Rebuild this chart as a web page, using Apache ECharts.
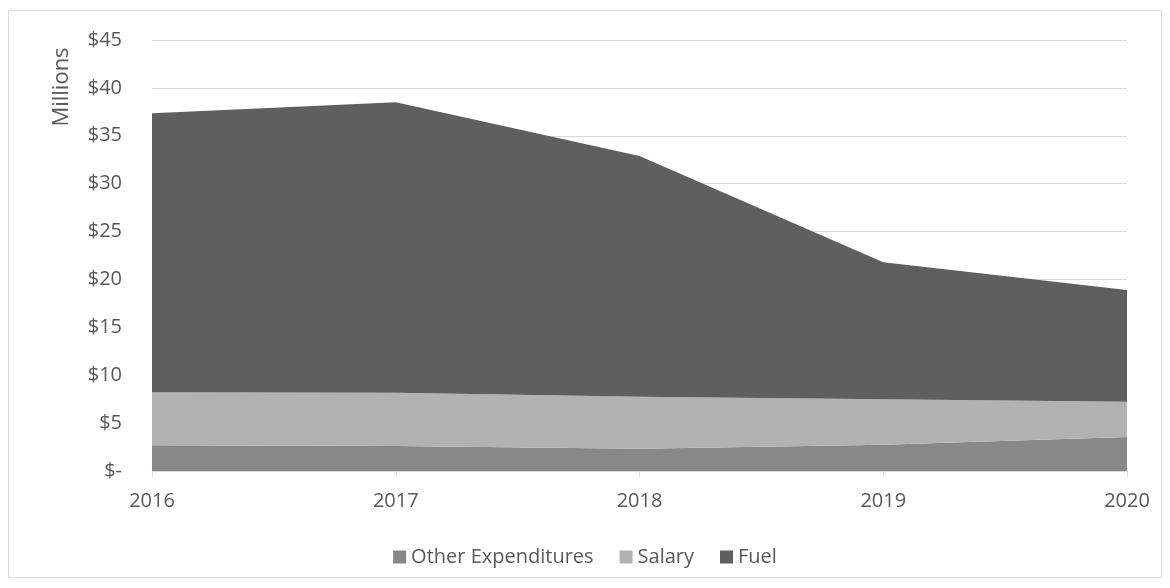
<!DOCTYPE html>
<html>
<head>
<meta charset="utf-8">
<script src="https://cdn.jsdelivr.net/npm/echarts@6/dist/echarts.min.js"></script>
<style>
  html, body { margin: 0; padding: 0; background: #fff; }
  #chart { width: 1170px; height: 588px; }
</style>
</head>
<body>
<div id="chart"></div>
<script>
// data, in millions
var years = ['2016', '2017', '2018', '2019', '2020'];
var otherExp = [2.68, 2.6, 2.33, 2.75, 3.55];
var salary = [5.53, 5.57, 5.43, 4.75, 3.68];
var fuel = [29.13, 30.33, 25.14, 14.3, 11.67];

var textColor = '#595959';
var font = 'Open Sans';

var chart = echarts.init(document.getElementById('chart'));

function area(name, data, color) {
  return {
    name: name,
    type: 'line',
    stack: 'total',
    data: data,
    symbol: 'none',
    lineStyle: { width: 0 },
    areaStyle: { color: color, opacity: 1 },
    itemStyle: { color: color }
  };
}

chart.setOption({
  animation: false,
  textStyle: { fontFamily: font },
  grid: { left: 152, right: 43, top: 40, bottom: 117 },
  graphic: [
    {
      type: 'rect',
      shape: { x: 8.5, y: 10.5, width: 1153, height: 567 },
      style: { fill: 'none', stroke: '#d9d9d9', lineWidth: 1 },
      z: -1
    },
    {
      type: 'text',
      x: 62, y: 87,
      rotation: Math.PI / 2,
      style: {
        text: 'Millions',
        fill: textColor,
        font: '22px "Open Sans"',
        align: 'center',
        verticalAlign: 'middle'
      }
    }
  ],
  legend: {
    bottom: 16,
    left: 'center',
    itemWidth: 13,
    itemHeight: 13,
    itemGap: 26,
    icon: 'rect',
    textStyle: { color: textColor, fontSize: 20, fontFamily: font },
    data: ['Other Expenditures', 'Salary', 'Fuel']
  },
  xAxis: {
    type: 'category',
    boundaryGap: false,
    data: years,
    axisLine: { lineStyle: { color: '#d9d9d9', width: 1 } },
    axisTick: { show: true, length: 6, lineStyle: { color: '#d9d9d9' } },
    axisLabel: { color: textColor, fontSize: 20, margin: 20 },
    splitLine: { show: false }
  },
  yAxis: {
    type: 'value',
    min: 0,
    max: 45,
    interval: 5,
    axisLine: { show: false },
    axisTick: { show: false },
    axisLabel: {
      color: textColor,
      fontSize: 20,
      margin: 30,
      formatter: function (v) { return v === 0 ? '$-' : '$' + v; }
    },
    splitLine: { lineStyle: { color: '#d9d9d9', width: 1 } }
  },
  series: [
    area('Other Expenditures', otherExp, '#888888'),
    area('Salary', salary, '#b2b2b2'),
    area('Fuel', fuel, '#5f5f5f')
  ]
});
</script>
</body>
</html>
